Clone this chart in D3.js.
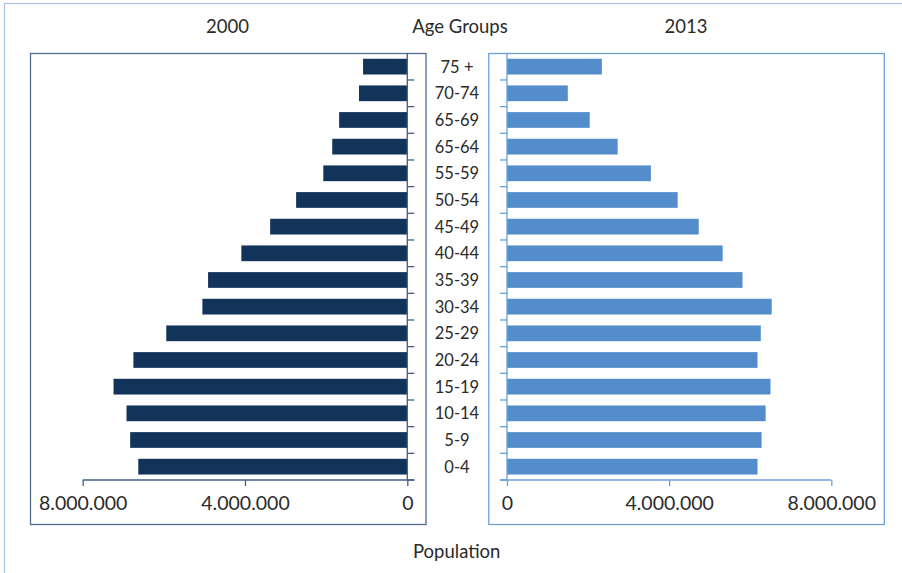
<!DOCTYPE html>
<html>
<head>
<meta charset="utf-8">
<script src="https://cdn.jsdelivr.net/npm/d3@7"></script>
<style>
  html, body { margin: 0; padding: 0; background: #fff; }
  svg { display: block; font-family: Lato, "Open Sans", sans-serif; }
</style>
</head>
<body>
<svg id="chart" width="902" height="573"></svg>
<script>
// ---- data ----
const ageGroups = ["75 +", "70-74", "65-69", "65-64", "55-59", "50-54", "45-49", "40-44",
                   "35-39", "30-34", "25-29", "20-24", "15-19", "10-14", "5-9", "0-4"];
const pop2000 = [1090000, 1190000, 1680000, 1850000, 2070000, 2740000, 3380000, 4090000,
                 4910000, 5050000, 5940000, 6750000, 7240000, 6920000, 6830000, 6630000];
const pop2013 = [2340000, 1500000, 2040000, 2730000, 3550000, 4210000, 4730000, 5320000,
                 5810000, 6530000, 6260000, 6180000, 6500000, 6380000, 6280000, 6180000];
const tickValues = [0, 4000000, 8000000];
const titleLeft = "2000", titleRight = "2013", titleMid = "Age Groups", xTitle = "Population";

// ---- styling ----
const textColor = "#2a2a2a";
const darkBar = "#12335a", lightBar = "#548dcb";
const darkLine = "#3f5f86", lightLine = "#6c9fd8";

const svg = d3.select("#chart");
const plotTop = 53.3, plotBottom = 480;

const y = d3.scaleBand().domain(ageGroups).range([plotTop, plotBottom])
  .paddingInner(0.41).paddingOuter(0.205);
const xL = d3.scaleLinear().domain([0, 8000000]).range([407.3, 82.7]);
const xR = d3.scaleLinear().domain([0, 8000000]).range([507, 831.3]);
const fmt = v => d3.format(",")(v).replace(/,/g, ".");

// outer border
svg.append("rect").attr("x", 4.5).attr("y", 3.5).attr("width", 1200).attr("height", 1200)
  .attr("fill", "none").attr("stroke", "#a9c2e3").attr("stroke-width", 1.2);

// panel boxes
svg.append("rect").attr("x", 30.5).attr("y", 53.5).attr("width", 395.5).attr("height", 471)
  .attr("fill", "none").attr("stroke", "#506c8f").attr("stroke-width", 1.3);
svg.append("rect").attr("x", 488.8).attr("y", 53.5).attr("width", 395.5).attr("height", 471)
  .attr("fill", "none").attr("stroke", lightLine).attr("stroke-width", 1.3);

// bars
svg.append("g").selectAll("rect").data(ageGroups).join("rect")
  .attr("x", (d, i) => xL(pop2000[i]))
  .attr("y", d => y(d))
  .attr("width", (d, i) => xL(0) - xL(pop2000[i]))
  .attr("height", y.bandwidth())
  .attr("fill", darkBar);
svg.append("g").selectAll("rect").data(ageGroups).join("rect")
  .attr("x", xR(0))
  .attr("y", d => y(d))
  .attr("width", (d, i) => xR(pop2013[i]) - xR(0))
  .attr("height", y.bandwidth())
  .attr("fill", lightBar);

// category boundaries (for vertical axis tick marks)
const bounds = ageGroups.map((d, i) => plotTop + (i + 1) * y.step());

// left vertical axis
const gl = svg.append("g").attr("stroke", darkLine).attr("stroke-width", 1.3);
gl.append("line").attr("x1", xL(0)).attr("x2", xL(0)).attr("y1", plotTop).attr("y2", plotBottom);
gl.selectAll("line.t").data(bounds).join("line").attr("class", "t")
  .attr("x1", xL(0)).attr("x2", xL(0) + 7).attr("y1", d => d).attr("y2", d => d);
// right vertical axis
const gr = svg.append("g").attr("stroke", lightLine).attr("stroke-width", 1.3);
gr.append("line").attr("x1", xR(0)).attr("x2", xR(0)).attr("y1", plotTop).attr("y2", plotBottom);
gr.selectAll("line.t").data(bounds).join("line").attr("class", "t")
  .attr("x1", xR(0) - 7).attr("x2", xR(0)).attr("y1", d => d).attr("y2", d => d);

// horizontal axes
function styleAxis(g, color) {
  g.select(".domain").remove();
  g.selectAll(".tick line").attr("stroke", color).attr("stroke-width", 1.3);
  g.selectAll(".tick text").attr("fill", textColor).attr("font-size", 19.5)
    .attr("font-family", "Lato, 'Open Sans', sans-serif").attr("dy", null).attr("y", 29.5);
}
const axL = svg.append("g").attr("transform", `translate(0,${plotBottom})`)
  .call(d3.axisBottom(xL).tickValues(tickValues).tickFormat(fmt).tickSize(6).tickSizeOuter(0));
styleAxis(axL, darkLine);
svg.append("line").attr("x1", xL(8000000)).attr("x2", xL(0) + 7).attr("y1", plotBottom).attr("y2", plotBottom)
  .attr("stroke", darkLine).attr("stroke-width", 1.3);
const axR = svg.append("g").attr("transform", `translate(0,${plotBottom})`)
  .call(d3.axisBottom(xR).tickValues(tickValues).tickFormat(fmt).tickSize(6).tickSizeOuter(0));
styleAxis(axR, lightLine);
svg.append("line").attr("x1", xR(0) - 7).attr("x2", xR(8000000)).attr("y1", plotBottom).attr("y2", plotBottom)
  .attr("stroke", lightLine).attr("stroke-width", 1.3);

// category labels
svg.append("g").selectAll("text").data(ageGroups).join("text")
  .attr("x", 457).attr("y", d => y(d) + y.bandwidth() / 2)
  .attr("dy", "0.36em").attr("text-anchor", "middle")
  .attr("font-size", 16.5).attr("fill", textColor).text(d => d);

// titles
const titles = [[titleLeft, 227.5, 33], [titleMid, 460, 33], [titleRight, 686, 33], [xTitle, 456.7, 557.5]];
svg.append("g").selectAll("text").data(titles).join("text")
  .attr("x", d => d[1]).attr("y", d => d[2]).attr("text-anchor", "middle")
  .attr("font-size", 18.5).attr("fill", textColor).text(d => d[0]);
</script>
</body>
</html>
